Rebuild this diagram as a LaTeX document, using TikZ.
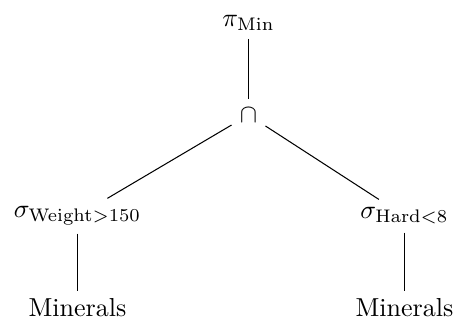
\documentclass[tikz,border=0pt]{standalone}
\begin{document}
\begin{tikzpicture}[x=0.3846pt,y=-0.3846pt,
  op/.style={inner sep=3pt},
  edge/.style={draw=black,line width=0.4pt}]
  \useasboundingbox (0,0) rectangle (456,322);
  % operator tree of the query
  \node[op] (proj) at (248.5,23) {$\pi_{\mathrm{Min}}$};
  \node[op] (inter) at (248.5,115) {$\cap$};
  \node[op] (selw) at (77.5,216) {$\sigma_{\mathrm{Weight}>150}$};
  \node[op] (selh) at (404.5,216) {$\sigma_{\mathrm{Hard}<8}$};
  \node[op] (relw) at (77.5,308) {Minerals};
  \node[op] (relh) at (404.5,308) {Minerals};
  \draw[edge] (proj) -- (inter);
  \draw[edge] (inter) -- (selw);
  \draw[edge] (inter) -- (selh);
  \draw[edge] (selw) -- (relw);
  \draw[edge] (selh) -- (relh);
\end{tikzpicture}
\end{document}
